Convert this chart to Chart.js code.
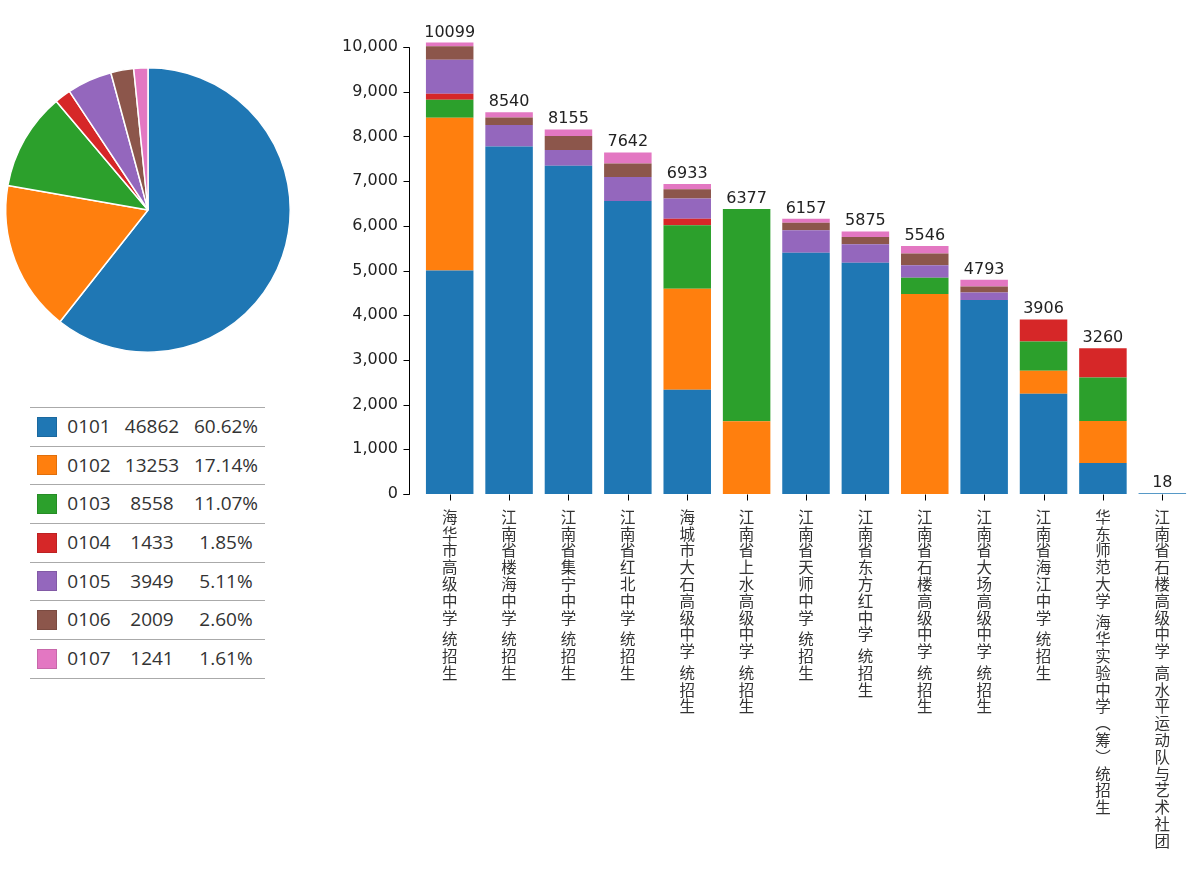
<!DOCTYPE html>
<html>
<head>
<meta charset="utf-8">
<script src="https://cdn.jsdelivr.net/npm/chart.js@4.4.1/dist/chart.umd.min.js"></script>
<style>
  body { margin: 0; background: #fff; width: 1200px; height: 886px; position: relative; overflow: hidden; }
  #pieChart { position: absolute; left: -2px; top: 60px; }
  #barChart { position: absolute; left: 330px; top: 0; }
  #legendTable { position: absolute; left: 30px; top: 407px; width: 235px; border-top: 1px solid #aaa;
    font-family: "Open Sans", sans-serif; font-size: 19px; color: #333; }
  .row { position: relative; height: 37.7px; border-bottom: 1px solid #aaa; }
  .swatch { position: absolute; left: 7px; top: 8.5px; width: 18px; height: 18px; border: 1px solid rgba(0,0,0,0.12); }
  .cell { position: absolute; top: 0; width: 90px; line-height: 37.7px; text-align: center; }
</style>
</head>
<body>
<canvas id="pieChart" width="300" height="300"></canvas>
<div id="legendTable"></div>
<canvas id="barChart" width="870" height="886"></canvas>
<script>
//Data
const seriesCodes = ["0101", "0102", "0103", "0104", "0105", "0106", "0107"];
const seriesColors = ["#1f77b4", "#ff7f0e", "#2ca02c", "#d62728", "#9467bd", "#8c564b", "#e377c2"];
const pieValues = [46862, 13253, 8558, 1433, 3949, 2009, 1241];

const schools = [
    "海华市高级中学 统招生",
    "江南省楼海中学 统招生",
    "江南省集宁中学 统招生",
    "江南省红北中学 统招生",
    "海城市大石高级中学 统招生",
    "江南省上水高级中学 统招生",
    "江南省天师中学 统招生",
    "江南省东方红中学 统招生",
    "江南省石楼高级中学 统招生",
    "江南省大场高级中学 统招生",
    "江南省海江中学 统招生",
    "华东师范大学 海华实验中学（筹）统招生",
    "江南省石楼高级中学 高水平运动队与艺术社团"
];
const s0101 = [5000, 7775, 7345, 6557, 2330, 0, 5397, 5175, 0, 4338, 2240, 695, 18];
const s0102 = [3420, 0, 0, 0, 2260, 1630, 0, 0, 4475, 0, 515, 940, 0];
const s0103 = [400, 0, 0, 0, 1425, 4747, 0, 0, 365, 0, 655, 970, 0];
const s0104 = [135, 0, 0, 0, 140, 0, 0, 0, 0, 0, 496, 655, 0];
const s0105 = [759, 480, 350, 535, 453, 0, 505, 410, 276, 170, 0, 0, 0];
const s0106 = [300, 170, 315, 300, 210, 0, 165, 165, 265, 135, 0, 0, 0];
const s0107 = [85, 115, 145, 250, 115, 0, 90, 125, 165, 150, 0, 0, 0];
const barSeries = [s0101, s0102, s0103, s0104, s0105, s0106, s0107];

const yTicks = [0, 1000, 2000, 3000, 4000, 5000, 6000, 7000, 8000, 9000, 10000];

//Pie chart
new Chart(document.getElementById("pieChart").getContext('2d'), {
    type: 'pie',
    data: {
        labels: seriesCodes,
        datasets: [{
            data: pieValues,
            backgroundColor: seriesColors,
            borderColor: '#fff',
            borderWidth: 1.5
        }]
    },
    options: {
        responsive: false,
        animation: false,
        layout: { padding: 7 },
        plugins: { legend: { display: false }, tooltip: { enabled: false } }
    }
});

//Legend table
let pieTotal = pieValues.reduce((a, b) => a + b, 0);
let table = document.getElementById("legendTable");
seriesCodes.forEach((code, i) => {
    let row = document.createElement('div');
    row.className = 'row';
    row.innerHTML =
        '<div class="swatch" style="background:' + seriesColors[i] + '"></div>' +
        '<div class="cell" style="left:14px">' + code + '</div>' +
        '<div class="cell" style="left:77px">' + pieValues[i] + '</div>' +
        '<div class="cell" style="left:151px">' + (pieValues[i] / pieTotal * 100).toFixed(2) + '%</div>';
    table.appendChild(row);
});

//Bar chart plugins
const axisPlugin = {
    id: 'axisLines',
    afterDraw(chart) {
        let ctx = chart.ctx;
        let x = chart.scales.x, y = chart.scales.y;
        let axisX = chart.chartArea.left - 10.5;
        let top = Math.round(y.getPixelForValue(yTicks[yTicks.length - 1])) + 0.5;
        let bottom = Math.round(y.getPixelForValue(0)) + 0.5;
        ctx.save();
        ctx.strokeStyle = '#000';
        ctx.lineWidth = 1;
        ctx.beginPath();
        ctx.moveTo(axisX - 6, top);
        ctx.lineTo(axisX, top);
        ctx.lineTo(axisX, bottom);
        ctx.lineTo(axisX - 6, bottom);
        yTicks.forEach(v => {
            let py = Math.round(y.getPixelForValue(v)) + 0.5;
            ctx.moveTo(axisX - 6, py);
            ctx.lineTo(axisX, py);
        });
        schools.forEach((s, i) => {
            let px = Math.round(x.getPixelForTick(i)) + 0.5;
            ctx.moveTo(px, bottom);
            ctx.lineTo(px, bottom + 6);
        });
        ctx.stroke();
        ctx.restore();
    }
};

const totalsPlugin = {
    id: 'totals',
    afterDatasetsDraw(chart) {
        let ctx = chart.ctx;
        let x = chart.scales.x, y = chart.scales.y;
        ctx.save();
        ctx.fillStyle = '#222';
        ctx.font = '16px "DejaVu Sans"';
        ctx.textAlign = 'center';
        ctx.textBaseline = 'alphabetic';
        schools.forEach((s, i) => {
            let total = barSeries.reduce((sum, arr) => sum + arr[i], 0);
            ctx.fillText(String(total), x.getPixelForValue(i), y.getPixelForValue(total) - 6);
        });
        ctx.restore();
    }
};

// vertical category labels, one character under the other
const verticalForms = { "（": "︵", "）": "︶" };
const xLabelPlugin = {
    id: 'verticalLabels',
    afterDraw(chart) {
        let ctx = chart.ctx;
        let x = chart.scales.x;
        ctx.save();
        ctx.fillStyle = '#333';
        ctx.font = '15.5px "Noto Sans CJK SC"';
        ctx.textAlign = 'center';
        ctx.textBaseline = 'middle';
        schools.forEach((label, i) => {
            let px = x.getPixelForTick(i);
            let cy = 517;
            for (let ch of label) {
                if (ch === ' ') { cy += 4.7; continue; }
                ctx.fillText(verticalForms[ch] || ch, px, cy);
                cy += 16.8;
            }
        });
        ctx.restore();
    }
};

//Bar chart
new Chart(document.getElementById("barChart").getContext('2d'), {
    type: 'bar',
    data: {
        labels: schools,
        datasets: seriesCodes.map((code, i) => ({
            label: code,
            data: barSeries[i],
            backgroundColor: seriesColors[i],
            borderWidth: 0,
            barPercentage: 0.8,
            categoryPercentage: 1,
            clip: false
        }))
    },
    options: {
        responsive: false,
        animation: false,
        layout: { padding: { top: 47, right: 8, left: 0, bottom: 0 } },
        plugins: { legend: { display: false }, tooltip: { enabled: false } },
        scales: {
            x: {
                stacked: true,
                grid: { display: false, drawTicks: false },
                border: { display: false },
                ticks: { display: false },
                afterFit: scale => { scale.height = 392; }
            },
            y: {
                stacked: true,
                min: 0,
                max: 10000,
                afterBuildTicks: scale => { scale.ticks = yTicks.map(v => ({ value: v })); },
                ticks: {
                    padding: 22,
                    color: '#222',
                    font: { family: 'DejaVu Sans', size: 16 },
                    callback: v => v.toLocaleString('en-US')
                },
                grid: { display: false, drawTicks: false },
                border: { display: false },
                afterFit: scale => { scale.width = 90; }
            }
        }
    },
    plugins: [axisPlugin, totalsPlugin, xLabelPlugin]
});
</script>
</body>
</html>
